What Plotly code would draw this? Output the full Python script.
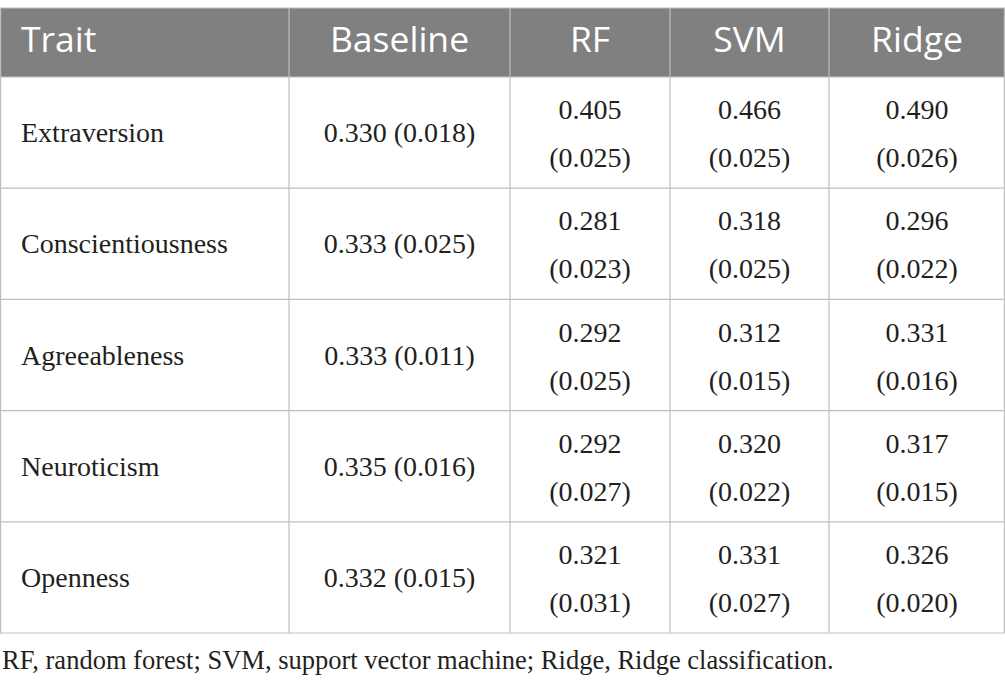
import plotly.graph_objects as go

# table contents
header = ["Trait", "Baseline", "RF", "SVM", "Ridge"]
traits = ["Extraversion", "Conscientiousness", "Agreeableness", "Neuroticism", "Openness"]
baseline = ["0.330 (0.018)", "0.333 (0.025)", "0.333 (0.011)", "0.335 (0.016)", "0.332 (0.015)"]
rf_mean = ["0.405", "0.281", "0.292", "0.292", "0.321"]
rf_sd = ["0.025", "0.023", "0.025", "0.027", "0.031"]
svm_mean = ["0.466", "0.318", "0.312", "0.320", "0.331"]
svm_sd = ["0.025", "0.025", "0.015", "0.022", "0.027"]
ridge_mean = ["0.490", "0.296", "0.331", "0.317", "0.326"]
ridge_sd = ["0.026", "0.022", "0.016", "0.015", "0.020"]
footnote = "RF, random forest; SVM, support vector machine; Ridge, Ridge classification."

W, H = 1005, 690
col_px = [289, 221, 160, 159, 176]
top, head_h, row_h = 8, 69, 111.2
line_col = "#bfbfbf"
text_col = "#231f20"
serif = "Liberation Serif"
sans = "Open Sans"
body_size = 28

# geometry in pixel units (axes map 1:1 to the page)
x_edges = [0]
for w in col_px:
    x_edges.append(x_edges[-1] + w)
x_mid = [(a + b) / 2 for a, b in zip(x_edges[:-1], x_edges[1:])]
n_rows = len(traits)
y_edges = [top, top + head_h] + [top + head_h + row_h * (i + 1) for i in range(n_rows)]
row_mid = [(y_edges[i + 1] + y_edges[i + 2]) / 2 for i in range(n_rows)]

shapes = []
# header band
shapes.append(dict(type="rect", x0=0, x1=W, y0=top, y1=top + head_h,
                   fillcolor="#808080", line=dict(width=0), layer="below"))
# horizontal rules
for y in y_edges:
    shapes.append(dict(type="line", x0=0, x1=W, y0=y, y1=y,
                       line=dict(color=line_col, width=1.2)))
# vertical rules
for x in x_edges:
    xx = min(max(x, 0.6), W - 0.6)
    shapes.append(dict(type="line", x0=xx, x1=xx, y0=top, y1=y_edges[-1],
                       line=dict(color=line_col, width=1.2)))

fig = go.Figure()

# header labels
fig.add_trace(go.Scatter(
    x=[21], y=[top + head_h / 2 + 1], text=header[:1], mode="text",
    textposition="middle right",
    textfont=dict(family=sans, size=35.5, color="white"),
))
fig.add_trace(go.Scatter(
    x=x_mid[1:], y=[top + head_h / 2 + 1] * 4, text=header[1:], mode="text",
    textposition="middle center",
    textfont=dict(family=sans, size=35.5, color="white"),
))

# trait names
fig.add_trace(go.Scatter(
    x=[21] * n_rows, y=[m + 2.5 for m in row_mid], text=traits, mode="text",
    textposition="middle right",
    textfont=dict(family=serif, size=body_size, color=text_col),
))
# baseline column (single line)
fig.add_trace(go.Scatter(
    x=[x_mid[1]] * n_rows, y=[m + 2.5 for m in row_mid], text=baseline, mode="text",
    textposition="middle center",
    textfont=dict(family=serif, size=body_size, color=text_col),
))
# model columns: mean on first line, (sd) on second line
for ci, (means, sds) in enumerate([(rf_mean, rf_sd), (svm_mean, svm_sd),
                                   (ridge_mean, ridge_sd)], start=2):
    fig.add_trace(go.Scatter(
        x=[x_mid[ci]] * n_rows, y=[m - 20.5 for m in row_mid], text=means,
        mode="text", textposition="middle center",
        textfont=dict(family=serif, size=body_size, color=text_col),
    ))
    fig.add_trace(go.Scatter(
        x=[x_mid[ci]] * n_rows, y=[m + 27.5 for m in row_mid],
        text=[f"({s})" for s in sds],
        mode="text", textposition="middle center",
        textfont=dict(family=serif, size=body_size, color=text_col),
    ))

fig.add_annotation(
    text=footnote, xref="x", yref="y", x=0, y=660,
    xanchor="left", yanchor="middle", showarrow=False,
    font=dict(family=serif, size=26.5, color=text_col),
)

fig.update_traces(hoverinfo="skip", cliponaxis=False)
fig.update_xaxes(range=[0, W], visible=False, fixedrange=True)
fig.update_yaxes(range=[H, 0], visible=False, fixedrange=True)
fig.update_layout(
    width=W, height=H,
    margin=dict(l=0, r=0, t=0, b=0),
    paper_bgcolor="white", plot_bgcolor="white",
    showlegend=False, shapes=shapes,
)

# drop the default page margin so the figure fills the window exactly
fig.write_html(
    "out.html",
    config={"displayModeBar": False},
    post_script="document.body.style.margin='0px';document.body.style.overflow='hidden';",
)
